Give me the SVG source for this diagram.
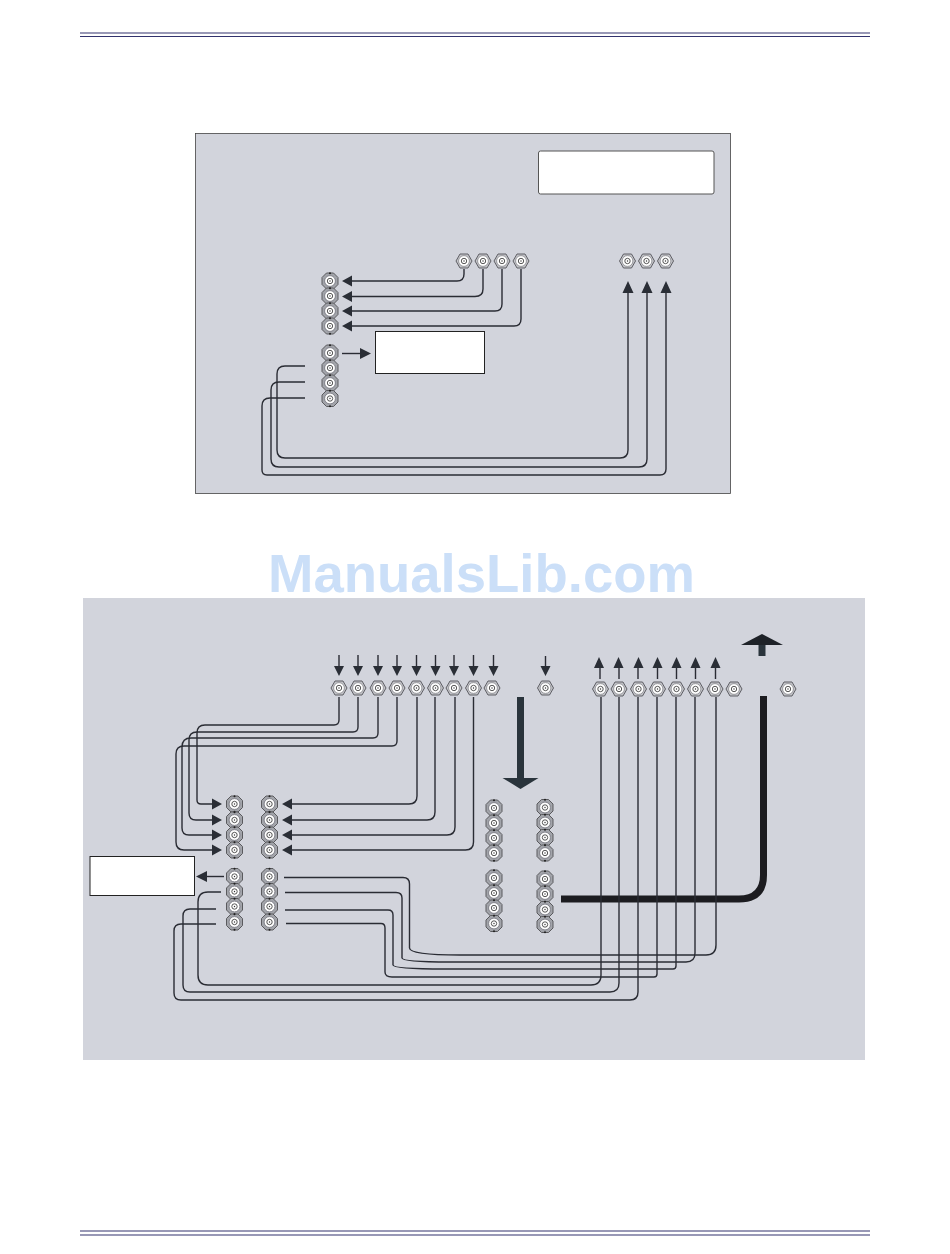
<svg xmlns="http://www.w3.org/2000/svg" width="950" height="1254" viewBox="0 0 950 1254">
<style>
.panel{fill:#d2d4dc}
.box{fill:#fff;stroke:#222;stroke-width:1}
.w{fill:none;stroke:#2a2c34;stroke-width:1.4}
.t{fill:none;stroke:#1c1c20;stroke-width:7}
.h{fill:#2a2e36;stroke:none}
.rule{stroke:#32326e;stroke-width:1.1}
.wm{font-family:"Liberation Sans",Arial,sans-serif;font-weight:700;font-size:54.5px;fill:#cbdff8}
</style>
<defs>
<g id="hr"><polygon points="-8,0 -4,-7 4,-7 8,0 4,7 -4,7" fill="#c4c5ca" stroke="#5e5e64" stroke-width="1"/><circle r="5.4" fill="#fff" stroke="#85858a" stroke-width=".8"/><circle r="2.7" fill="#fff" stroke="#444" stroke-width=".9"/><circle r=".7" fill="#333"/></g>
<g id="hc"><polygon points="-8,-3.5 -3.5,-8 3.5,-8 8,-3.5 8,3.5 3.5,8 -3.5,8 -8,3.5" fill="#a2a4aa" stroke="#5a5a5e" stroke-width="1"/><circle cy="-7.8" r="1" fill="#222"/><circle cy="7.8" r="1" fill="#222"/><circle r="5.4" fill="#fff" stroke="#70707a" stroke-width=".8"/><circle r="2.7" fill="#fff" stroke="#444" stroke-width=".9"/><circle r=".7" fill="#333"/></g>
</defs>
<rect width="950" height="1254" fill="#fff"/>
<g id="header"><line class="rule" x1="80" y1="33" x2="870" y2="33"/><line class="rule" x1="80" y1="36.500" x2="870" y2="36.500"/></g>
<g id="footer"><line class="rule" x1="80" y1="1231" x2="870" y2="1231"/><line class="rule" x1="80" y1="1235" x2="870" y2="1235"/></g>
<rect class="panel" x="195.500" y="133.500" width="535" height="360" stroke="#444" stroke-width=".8"/>
<rect class="panel" x="83" y="598" width="782" height="462"/>
<text class="wm" x="268" y="592" textLength="427" lengthAdjust="spacingAndGlyphs">ManualsLib.com</text>
<g id="box-top"><rect x="538.500" y="151" width="175.500" height="43" rx="2" fill="#fff" stroke="#555" stroke-width="1"/></g>
<g id="box-mid"><rect class="box" x="375.500" y="331.500" width="109" height="42"/></g>
<g id="box-low"><rect class="box" x="90" y="856.500" width="104.500" height="39"/></g>

<g id="connectors">
<path class="w" d="M464 269V274Q464 281 457 281H350"/>
<path class="w" d="M483 269V289Q483 296.500 475 296.500H350"/>
<path class="w" d="M502 269V304Q502 311 495 311H350"/>
<path class="w" d="M521 269V319Q521 326 514 326H350"/>
<path class="h" d="M342 281L352 275.500V286.500ZM342 296.500L352 291V302ZM342 311L352 305.500V316.500ZM342 326L352 320.500V331.500Z"/>
<path class="w" d="M342 353.500H362"/><path class="h" d="M371 353.500L360 348V359Z"/>
<path class="w" d="M305 366H285Q277 366 277 374V450Q277 458 285 458H620Q628 458 628 450V292"/>
<path class="w" d="M305 382H279Q271 382 271 390V459Q271 467 279 467H639Q647 467 647 459V292"/>
<path class="w" d="M305 398H270Q262 398 262 406V470Q262 475 267 475H660Q666 475 666 469V292"/>
<path class="h" d="M628 281L622.500 293H633.500ZM647 281L641.500 293H652.500ZM666 281L660.500 293H671.500Z"/>
<g id="in-arrows">
<path class="w" d="M339 655V667M358 655V667M378 655V667M397 655V667M416.500 655V667M435.500 655V667M454 655V667M473.500 655V667M493.500 655V667M545.500 656V667"/>
<path class="h" d="M339 676L334 666H344ZM358 676L353 666H363ZM378 676L373 666H383ZM397 676L392 666H402ZM416.500 676L411.500 666H421.500ZM435.500 676L430.500 666H440.500ZM454 676L449 666H459ZM473.500 676L468.500 666H478.500ZM493.500 676L488.500 666H498.500ZM545.500 676L540.500 666H550.500Z"/>
</g>
<g id="out-arrows">
<path class="w" d="M600 667V679M619 667V679M638 667V679M657.500 667V679M676.500 667V679M695.500 667V679M715.500 667V679"/>
<path class="h" d="M599 657L594 668H604ZM618.500 657L613.500 668H623.500ZM638.500 657L633.500 668H643.500ZM657.500 657L652.500 668H662.500ZM676.500 657L671.500 668H681.500ZM695.500 657L690.500 668H700.500ZM715.500 657L710.500 668H720.500Z"/>
</g>
<rect x="517" y="697" width="7" height="82" fill="#2a343c"/><path fill="#2a343c" d="M502.500 778H538.500L520.500 789Z"/>
<rect x="758.500" y="644" width="7" height="12" fill="#2a343c"/><path fill="#1e2228" d="M741 645L762 634L783 645Z"/>
<path class="t" d="M763.500 696V875Q763.500 899 739 899H561"/>
<path class="w" d="M339 697V720Q339 725 334 725H205Q197 725 197 733V800Q197 804 201 804H214"/>
<path class="w" d="M358 697V727Q358 732 353 732H197Q189 732 189 740V813Q189 820 196 820H214"/>
<path class="w" d="M378 697V733Q378 738 373 738H191Q182 738 182 747V828Q182 835 189 835H214"/>
<path class="w" d="M397 697V741Q397 746 392 746H184Q176 746 176 754V842Q176 850 184 850H214"/>
<path class="h" d="M222 804L212 798.500V809.500ZM222 820L212 814.500V825.500ZM222 835L212 829.500V840.500ZM222 850L212 844.500V855.500Z"/>
<path class="w" d="M417 697V796Q417 804 409 804H290"/>
<path class="w" d="M435 697V812Q435 820 427 820H290"/>
<path class="w" d="M455 697V827Q455 835 447 835H290"/>
<path class="w" d="M473.500 697V842Q473.500 850 465.500 850H290"/>
<path class="h" d="M282 804L292 798.500V809.500ZM282 820L292 814.500V825.500ZM282 835L292 829.500V840.500ZM282 850L292 844.500V855.500Z"/>
<path class="w" d="M224 876.500H205"/><path class="h" d="M196 876.500L207 871V882Z"/>
<path class="w" d="M284 877.500H403Q409.500 877.500 409.500 884V948Q409.500 955 460 955H706Q716 955 716 945V697"/>
<path class="w" d="M285 892.500H396Q402 892.500 402 898V958Q402 962 450 962H686Q695 962 695 953V697"/>
<path class="w" d="M285 910H388Q393 910 393 915V965Q393 969 445 969H673Q676 969 676 966V697"/>
<path class="w" d="M286 923.500H381Q385 923.500 385 928V972Q385 977 392 977H654Q657 977 657 974V697"/>
<path class="w" d="M221 892H208Q198 892 198 902V975Q198 985 208 985H591Q601 985 601 975V697"/>
<path class="w" d="M216 909H190Q183 909 183 916V985Q183 992 190 992H610Q619 992 619 983V697"/>
<path class="w" d="M216 924H181Q174 924 174 931V993Q174 1000 181 1000H630Q638 1000 638 992V697"/>
</g>

<g id="n-t1"><use href="#hr" x="464" y="261"/></g>
<g id="n-t2"><use href="#hr" x="483" y="261"/></g>
<g id="n-t3"><use href="#hr" x="502" y="261"/></g>
<g id="n-t4"><use href="#hr" x="521" y="261"/></g>
<g id="n-t5"><use href="#hr" x="627.500" y="261"/></g>
<g id="n-t6"><use href="#hr" x="646.500" y="261"/></g>
<g id="n-t7"><use href="#hr" x="665.500" y="261"/></g>
<g id="n-l1"><use href="#hc" x="330" y="281"/></g>
<g id="n-l2"><use href="#hc" x="330" y="296"/></g>
<g id="n-l3"><use href="#hc" x="330" y="311"/></g>
<g id="n-l4"><use href="#hc" x="330" y="326"/></g>
<g id="n-l5"><use href="#hc" x="330" y="353"/></g>
<g id="n-l6"><use href="#hc" x="330" y="368"/></g>
<g id="n-l7"><use href="#hc" x="330" y="383"/></g>
<g id="n-l8"><use href="#hc" x="330" y="398.500"/></g>

<g id="n-a1"><use href="#hr" x="339" y="688"/></g>
<g id="n-a2"><use href="#hr" x="358" y="688"/></g>
<g id="n-a3"><use href="#hr" x="378" y="688"/></g>
<g id="n-a4"><use href="#hr" x="397" y="688"/></g>
<g id="n-a5"><use href="#hr" x="416.500" y="688"/></g>
<g id="n-a6"><use href="#hr" x="435.500" y="688"/></g>
<g id="n-a7"><use href="#hr" x="454" y="688"/></g>
<g id="n-a8"><use href="#hr" x="473.500" y="688"/></g>
<g id="n-a9"><use href="#hr" x="492" y="688"/></g>
<g id="n-a10"><use href="#hr" x="545.500" y="688"/></g>
<g id="n-b1"><use href="#hr" x="600.500" y="689"/></g>
<g id="n-b2"><use href="#hr" x="619" y="689"/></g>
<g id="n-b3"><use href="#hr" x="638.500" y="689"/></g>
<g id="n-b4"><use href="#hr" x="657.500" y="689"/></g>
<g id="n-b5"><use href="#hr" x="676.500" y="689"/></g>
<g id="n-b6"><use href="#hr" x="695.500" y="689"/></g>
<g id="n-b7"><use href="#hr" x="715" y="689"/></g>
<g id="n-b8"><use href="#hr" x="734" y="689"/></g>
<g id="n-b9"><use href="#hr" x="788" y="689"/></g>

<g id="n-c1"><use href="#hc" x="234.500" y="804"/></g>
<g id="n-c2"><use href="#hc" x="234.500" y="820"/></g>
<g id="n-c3"><use href="#hc" x="234.500" y="835"/></g>
<g id="n-c4"><use href="#hc" x="234.500" y="850"/></g>
<g id="n-c5"><use href="#hc" x="234.500" y="876.500"/></g>
<g id="n-c6"><use href="#hc" x="234.500" y="891.500"/></g>
<g id="n-c7"><use href="#hc" x="234.500" y="906.500"/></g>
<g id="n-c8"><use href="#hc" x="234.500" y="922"/></g>
<g id="n-d1"><use href="#hc" x="269.500" y="804"/></g>
<g id="n-d2"><use href="#hc" x="269.500" y="820"/></g>
<g id="n-d3"><use href="#hc" x="269.500" y="835"/></g>
<g id="n-d4"><use href="#hc" x="269.500" y="850"/></g>
<g id="n-d5"><use href="#hc" x="269.500" y="876.500"/></g>
<g id="n-d6"><use href="#hc" x="269.500" y="891.500"/></g>
<g id="n-d7"><use href="#hc" x="269.500" y="906.500"/></g>
<g id="n-d8"><use href="#hc" x="269.500" y="922"/></g>
<g id="n-e1"><use href="#hc" x="494" y="808"/></g>
<g id="n-e2"><use href="#hc" x="494" y="823"/></g>
<g id="n-e3"><use href="#hc" x="494" y="838"/></g>
<g id="n-e4"><use href="#hc" x="494" y="853"/></g>
<g id="n-e5"><use href="#hc" x="494" y="878"/></g>
<g id="n-e6"><use href="#hc" x="494" y="893"/></g>
<g id="n-e7"><use href="#hc" x="494" y="908"/></g>
<g id="n-e8"><use href="#hc" x="494" y="923.500"/></g>
<g id="n-f1"><use href="#hc" x="545" y="807.500"/></g>
<g id="n-f2"><use href="#hc" x="545" y="822.500"/></g>
<g id="n-f3"><use href="#hc" x="545" y="837.500"/></g>
<g id="n-f4"><use href="#hc" x="545" y="853"/></g>
<g id="n-f5"><use href="#hc" x="545" y="879"/></g>
<g id="n-f6"><use href="#hc" x="545" y="894"/></g>
<g id="n-f7"><use href="#hc" x="545" y="909.500"/></g>
<g id="n-f8"><use href="#hc" x="545" y="924.500"/></g>
</svg>
